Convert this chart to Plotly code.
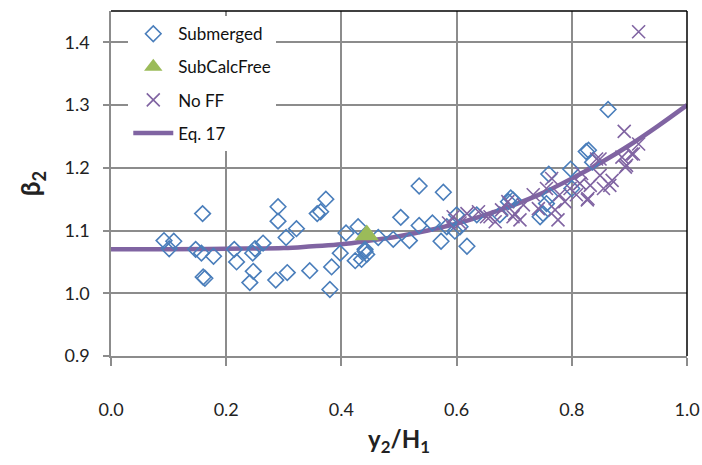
import plotly.graph_objects as go

# Submerged (open diamonds)
sub_x = [0.092, 0.109, 0.101, 0.147, 0.157, 0.178, 0.160, 0.163, 0.159, 0.214, 0.218,
         0.290, 0.290, 0.373, 0.358, 0.364, 0.322, 0.304, 0.264, 0.250, 0.246,
         0.247, 0.241, 0.286, 0.306, 0.345, 0.383, 0.380, 0.398, 0.408, 0.429, 0.424, 0.441,
         0.535, 0.577, 0.503, 0.464, 0.490, 0.518, 0.535, 0.558, 0.573, 0.583, 0.597, 0.606,
         0.618, 0.441, 0.444, 0.435, 0.635, 0.600,
         0.760, 0.798, 0.825, 0.694, 0.690, 0.698, 0.762, 0.756, 0.745, 0.750, 0.800, 0.675,
         0.863, 0.829, 0.836]
sub_y = [1.084, 1.083, 1.071, 1.070, 1.064, 1.059, 1.026, 1.024, 1.127, 1.070, 1.050,
         1.138, 1.115, 1.150, 1.127, 1.130, 1.103, 1.089, 1.080, 1.071, 1.064,
         1.035, 1.017, 1.021, 1.033, 1.036, 1.042, 1.006, 1.064, 1.096, 1.106, 1.052, 1.067,
         1.171, 1.161, 1.121, 1.089, 1.086, 1.084, 1.108, 1.112, 1.083, 1.106, 1.099, 1.106,
         1.075, 1.070, 1.062, 1.054, 1.125, 1.125,
         1.190, 1.198, 1.226, 1.152, 1.146, 1.149, 1.155, 1.143, 1.122, 1.127, 1.167, 1.125,
         1.293, 1.228, 1.209]

# SubCalcFree (triangle)
calc_x = [0.444]
calc_y = [1.093]

# No FF (x markers)
noff_x = [0.916, 0.891, 0.916, 0.907, 0.887, 0.893, 0.870, 0.849, 0.855, 0.827, 0.832, 0.843,
          0.828, 0.866, 0.814, 0.895, 0.904, 0.849,
          0.594, 0.618, 0.638, 0.658, 0.678, 0.689, 0.698, 0.586, 0.606,
          0.652, 0.667, 0.701, 0.710, 0.733, 0.742, 0.771, 0.776, 0.779, 0.788, 0.814, 0.817,
          0.716, 0.756, 0.765, 0.797, 0.808]
noff_y = [1.417, 1.258, 1.238, 1.222, 1.217, 1.201, 1.180, 1.188, 1.167, 1.149, 1.172, 1.214,
          1.151, 1.172, 1.175, 1.204, 1.222, 1.214,
          1.122, 1.127, 1.130, 1.122, 1.133, 1.146, 1.122, 1.112, 1.112,
          1.122, 1.114, 1.127, 1.117, 1.157, 1.135, 1.133, 1.117, 1.157, 1.146, 1.175, 1.191,
          1.141, 1.167, 1.183, 1.167, 1.157]

# Eq. 17 curve
eq_x = [0.0, 0.1, 0.2, 0.3, 0.35, 0.4, 0.45, 0.5, 0.55, 0.6, 0.65, 0.7, 0.75, 0.8, 0.85, 0.9, 0.95, 1.0]
eq_y = [1.070, 1.070, 1.071, 1.072, 1.075, 1.078, 1.084, 1.091, 1.100, 1.111, 1.125, 1.141,
        1.160, 1.183, 1.208, 1.236, 1.267, 1.300]

x_ticks = [0.0, 0.2, 0.4, 0.6, 0.8, 1.0]
y_ticks = [0.9, 1.0, 1.1, 1.2, 1.3, 1.4]

FONT = "Lato, 'Open Sans', sans-serif"
GRID = "#8c8c8c"

fig = go.Figure()
fig.add_trace(go.Scatter(x=eq_x, y=eq_y, mode="lines", name="Eq. 17", legendgroup="d",
                         legendrank=4,
                         line=dict(color="#8064a2", width=4.5, shape="spline")))
fig.add_trace(go.Scatter(x=sub_x, y=sub_y, mode="markers", name="Submerged", legendgroup="a",
                         legendrank=1,
                         marker=dict(symbol="diamond-open", size=12, color="#4a7ebb",
                                     line=dict(width=1.6, color="#4a7ebb"))))
fig.add_trace(go.Scatter(x=noff_x, y=noff_y, mode="markers", name="No FF", legendgroup="c",
                         legendrank=3,
                         marker=dict(symbol="x-thin-open", size=13, color="#8064a2",
                                     line=dict(width=1.6, color="#8064a2"))))
fig.add_trace(go.Scatter(x=calc_x, y=calc_y, mode="markers", name="SubCalcFree", legendgroup="b",
                         legendrank=2,
                         marker=dict(symbol="triangle-up", size=21, color="#9bbb59")))

fig.update_layout(
    width=702, height=465,
    margin=dict(l=111, r=15, t=11, b=109),
    paper_bgcolor="white", plot_bgcolor="white",
    font=dict(family=FONT, size=18, color="#222"),
    showlegend=True,
    legend=dict(x=0.03, y=0.985, xanchor="left", yanchor="top",
                bgcolor="white", borderwidth=0, tracegroupgap=8,
                font=dict(size=17, family=FONT, color="#111"),
                itemwidth=40),
    xaxis=dict(range=[0, 1], tickvals=x_ticks, ticktext=[f"{v:.1f}" for v in x_ticks],
               automargin=False,
               showgrid=True, gridcolor=GRID, gridwidth=1.5,
               showline=True, linecolor=GRID, linewidth=1.5,
               ticks="outside", ticklen=8, tickcolor=GRID, tickwidth=1.5,
               ticklabelstandoff=29, zeroline=False,
               title=dict(text="<b>y<sub>2</sub>/H<sub>1</sub></b>", font=dict(size=24, family=FONT),
                          standoff=12)),
    yaxis=dict(range=[0.9, 1.45], tickvals=y_ticks, ticktext=[f"{v:.1f}" for v in y_ticks],
               automargin=False,
               showgrid=True, gridcolor=GRID, gridwidth=1.5,
               showline=True, linecolor=GRID, linewidth=1.5,
               ticks="outside", ticklen=6, tickcolor=GRID, tickwidth=1.5,
               ticklabelstandoff=10, zeroline=False,
               title=dict(text="<b>β<sub>2</sub></b>", font=dict(size=26, family=FONT),
                          standoff=16)),
)
# black top and right border of plot area
fig.add_shape(type="line", xref="paper", yref="paper", x0=0, x1=1, y0=1, y1=1,
              line=dict(color="black", width=1.5))
fig.add_shape(type="line", xref="paper", yref="paper", x0=1, x1=1, y0=0, y1=1,
              line=dict(color="black", width=1.5))

fig.write_html("out.html")
